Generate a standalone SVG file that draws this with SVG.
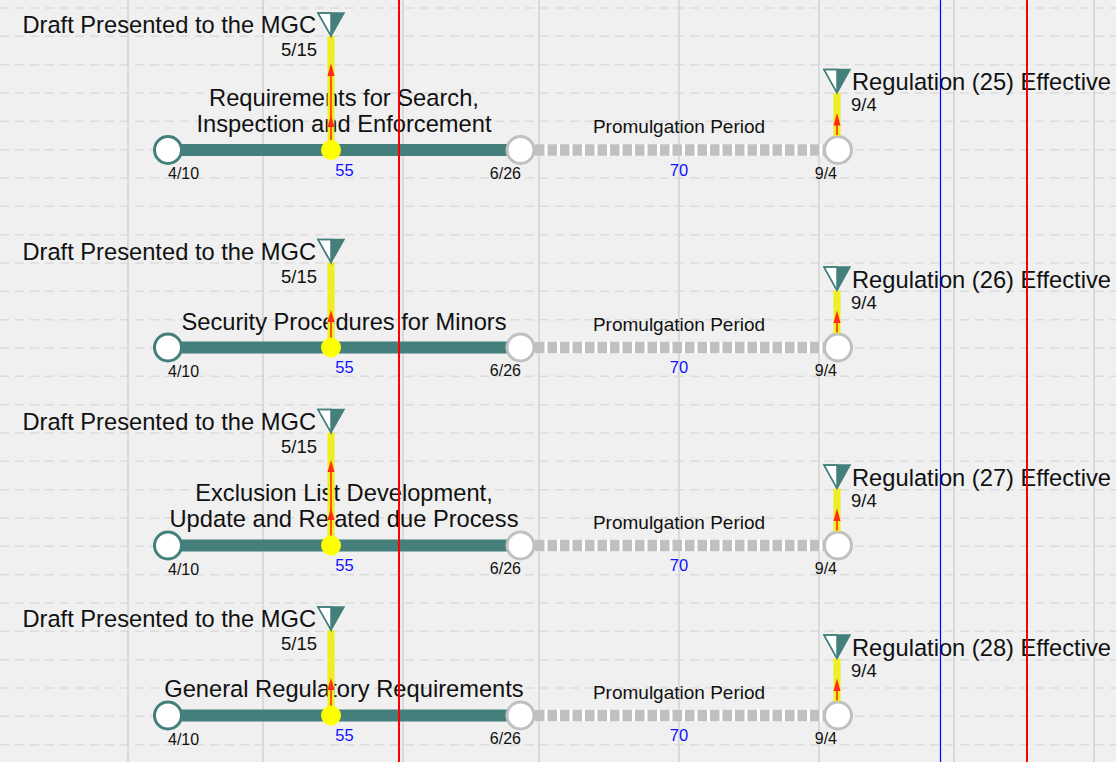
<svg xmlns="http://www.w3.org/2000/svg" width="1116" height="762" viewBox="0 0 1116 762">
<style>
.bg{fill:#f0f0f0}
.hg{stroke:#dcdcdc;stroke-width:1.5;stroke-dasharray:9 6}
.vg{stroke:#d2d2d2;stroke-width:1.5}
.t{font-family:"Liberation Sans",Arial,sans-serif;fill:#111}
.big{font-size:23.7px}
.mid{font-size:19px}
.ms{font-size:18.5px}
.dt{font-size:16px}
.num{font-size:16.5px;fill:#1010ff}
.bar{stroke:#447f7c;stroke-width:12}
.pw{stroke:#ffffff;stroke-width:11.5}
.pd{stroke:#c0c0c0;stroke-width:11.5;stroke-dasharray:9.5 3}
.cs{fill:#fff;stroke:#447f7c;stroke-width:3}
.ce{fill:#fff;stroke:#c0c0c0;stroke-width:3}
.yl{stroke:#eeee22;stroke-width:7}
.yc{fill:#ffff00}
.rl{stroke:#ff3010;stroke-width:1.6}
.ra{fill:#ff2a1a}
.tw{fill:#fff;stroke:#447f7c;stroke-width:1.5}
.tt{fill:#447f7c}
</style>
<rect class="bg" x="0" y="0" width="1116" height="762"/>
<g id="grid">
<g class="hg">
<line x1="0" y1="8" x2="1116" y2="8"/><line x1="0" y1="36.3" x2="1116" y2="36.3"/><line x1="0" y1="64.7" x2="1116" y2="64.7"/><line x1="0" y1="93" x2="1116" y2="93"/><line x1="0" y1="121.3" x2="1116" y2="121.3"/><line x1="0" y1="149.7" x2="1116" y2="149.7"/><line x1="0" y1="178" x2="1116" y2="178"/><line x1="0" y1="206.3" x2="1116" y2="206.3"/><line x1="0" y1="234.7" x2="1116" y2="234.7"/><line x1="0" y1="263" x2="1116" y2="263"/><line x1="0" y1="291.3" x2="1116" y2="291.3"/><line x1="0" y1="319.7" x2="1116" y2="319.7"/><line x1="0" y1="348" x2="1116" y2="348"/><line x1="0" y1="376.3" x2="1116" y2="376.3"/><line x1="0" y1="404.7" x2="1116" y2="404.7"/><line x1="0" y1="433" x2="1116" y2="433"/><line x1="0" y1="461.3" x2="1116" y2="461.3"/><line x1="0" y1="489.7" x2="1116" y2="489.7"/><line x1="0" y1="518" x2="1116" y2="518"/><line x1="0" y1="546.3" x2="1116" y2="546.3"/><line x1="0" y1="574.7" x2="1116" y2="574.7"/><line x1="0" y1="603" x2="1116" y2="603"/><line x1="0" y1="631.3" x2="1116" y2="631.3"/><line x1="0" y1="659.7" x2="1116" y2="659.7"/><line x1="0" y1="688" x2="1116" y2="688"/><line x1="0" y1="716.3" x2="1116" y2="716.3"/><line x1="0" y1="744.7" x2="1116" y2="744.7"/>
</g>
<g class="vg">
<line x1="128" y1="0" x2="128" y2="762"/><line x1="263" y1="0" x2="263" y2="762"/><line x1="403" y1="0" x2="403" y2="762"/><line x1="539" y1="0" x2="539" y2="762"/><line x1="679" y1="0" x2="679" y2="762"/><line x1="819" y1="0" x2="819" y2="762"/><line x1="954" y1="0" x2="954" y2="762"/><line x1="1094" y1="0" x2="1094" y2="762"/>
</g>
</g>
<g id="connectors">
<line class="bar" x1="168" y1="150" x2="520" y2="150"/>
<line class="pw" x1="533" y1="150" x2="825" y2="150"/>
<line class="pd" x1="535" y1="150" x2="825" y2="150"/>
<line class="bar" x1="168" y1="347.5" x2="520" y2="347.5"/>
<line class="pw" x1="533" y1="347.5" x2="825" y2="347.5"/>
<line class="pd" x1="535" y1="347.5" x2="825" y2="347.5"/>
<line class="bar" x1="168" y1="545.5" x2="520" y2="545.5"/>
<line class="pw" x1="533" y1="545.5" x2="825" y2="545.5"/>
<line class="pd" x1="535" y1="545.5" x2="825" y2="545.5"/>
<line class="bar" x1="168" y1="715.5" x2="520" y2="715.5"/>
<line class="pw" x1="533" y1="715.5" x2="825" y2="715.5"/>
<line class="pd" x1="535" y1="715.5" x2="825" y2="715.5"/>
</g>
<g id="labels">
<text class="t big" x="344" y="105.5" text-anchor="middle">Requirements for Search,</text>
<text class="t big" x="344" y="131.5" text-anchor="middle">Inspection and Enforcement</text>
<text class="t big" x="344" y="329.5" text-anchor="middle">Security Procedures for Minors</text>
<text class="t big" x="344" y="501" text-anchor="middle">Exclusion List Development,</text>
<text class="t big" x="344" y="527" text-anchor="middle">Update and Related due Process</text>
<text class="t big" x="344" y="697" text-anchor="middle">General Regulatory Requirements</text>
<text class="t mid" x="679" y="133" text-anchor="middle">Promulgation Period</text>
<text class="t mid" x="679" y="330.5" text-anchor="middle">Promulgation Period</text>
<text class="t mid" x="679" y="528.5" text-anchor="middle">Promulgation Period</text>
<text class="t mid" x="679" y="698.5" text-anchor="middle">Promulgation Period</text>
<text class="t num" x="344.5" y="175.5" text-anchor="middle">55</text>
<text class="t num" x="679" y="175.5" text-anchor="middle">70</text>
<text class="t num" x="344.5" y="373" text-anchor="middle">55</text>
<text class="t num" x="679" y="373" text-anchor="middle">70</text>
<text class="t num" x="344.5" y="571" text-anchor="middle">55</text>
<text class="t num" x="679" y="571" text-anchor="middle">70</text>
<text class="t num" x="344.5" y="741" text-anchor="middle">55</text>
<text class="t num" x="679" y="741" text-anchor="middle">70</text>
</g>
<!-- Row 1 -->
<g id="r1-start"><circle class="cs" cx="168" cy="150" r="13.5"/><text class="t dt" x="168" y="179">4/10</text></g>
<g id="r1-end"><circle class="ce" cx="520.5" cy="150" r="13.5"/><text class="t dt" x="521" y="178.5" text-anchor="end">6/26</text></g>
<g id="r1-final"><circle class="ce" cx="838" cy="150" r="13.5"/><text class="t dt" x="837" y="178.5" text-anchor="end">9/4</text></g>
<g id="r1-draft">
<line class="yl" x1="331" y1="36" x2="331" y2="150"/>
<line class="rl" x1="331" y1="143" x2="331" y2="72"/>
<polygon class="ra" points="331,63 327.5,76 334.5,76"/>
<polygon class="ra" points="331,115 327.5,127 334.5,127"/>
<circle class="yc" cx="331" cy="150" r="10"/>
<polygon class="tw" points="318,13 331,13 331,36"/><polygon class="tt" points="331,13 344,13 331,36"/><polygon points="318,13 344,13 331,36" fill="none" stroke="#447f7c" stroke-width="1.5"/>
<text class="t big" x="316" y="33" text-anchor="end">Draft Presented to the MGC</text>
<text class="t ms" x="317" y="56" text-anchor="end">5/15</text>
</g>
<g id="r1-effective">
<line class="yl" x1="837" y1="93" x2="837" y2="136"/>
<line class="rl" x1="837" y1="135" x2="837" y2="120"/>
<polygon class="ra" points="837,113 833.5,125.5 840.5,125.5"/>
<polygon class="tw" points="824,69.5 837,69.5 837,93"/><polygon class="tt" points="837,69.5 850,69.5 837,93"/><polygon points="824,69.5 850,69.5 837,93" fill="none" stroke="#447f7c" stroke-width="1.5"/>
<text class="t big" x="852" y="90">Regulation (25) Effective</text>
<text class="t ms" x="851" y="111">9/4</text>
</g>
<!-- Row 2 -->
<g id="r2-start"><circle class="cs" cx="168" cy="347.5" r="13.5"/><text class="t dt" x="168" y="376.5">4/10</text></g>
<g id="r2-end"><circle class="ce" cx="520.5" cy="347.5" r="13.5"/><text class="t dt" x="521" y="376" text-anchor="end">6/26</text></g>
<g id="r2-final"><circle class="ce" cx="838" cy="347.5" r="13.5"/><text class="t dt" x="837" y="376" text-anchor="end">9/4</text></g>
<g id="r2-draft">
<line class="yl" x1="331" y1="262.5" x2="331" y2="347.5"/>
<line class="rl" x1="331" y1="341" x2="331" y2="318"/>
<polygon class="ra" points="331,310 327.5,322 334.5,322"/>
<circle class="yc" cx="331" cy="347.5" r="10"/>
<polygon class="tw" points="318,239.5 331,239.5 331,262.5"/><polygon class="tt" points="331,239.5 344,239.5 331,262.5"/><polygon points="318,239.5 344,239.5 331,262.5" fill="none" stroke="#447f7c" stroke-width="1.5"/>
<text class="t big" x="316" y="259.5" text-anchor="end">Draft Presented to the MGC</text>
<text class="t ms" x="317" y="282.5" text-anchor="end">5/15</text>
</g>
<g id="r2-effective">
<line class="yl" x1="837" y1="290.5" x2="837" y2="333.5"/>
<line class="rl" x1="837" y1="332.5" x2="837" y2="317.5"/>
<polygon class="ra" points="837,310.5 833.5,323 840.5,323"/>
<polygon class="tw" points="824,267 837,267 837,290.5"/><polygon class="tt" points="837,267 850,267 837,290.5"/><polygon points="824,267 850,267 837,290.5" fill="none" stroke="#447f7c" stroke-width="1.5"/>
<text class="t big" x="852" y="287.5">Regulation (26) Effective</text>
<text class="t ms" x="851" y="308.5">9/4</text>
</g>
<!-- Row 3 -->
<g id="r3-start"><circle class="cs" cx="168" cy="545.5" r="13.5"/><text class="t dt" x="168" y="574.5">4/10</text></g>
<g id="r3-end"><circle class="ce" cx="520.5" cy="545.5" r="13.5"/><text class="t dt" x="521" y="574" text-anchor="end">6/26</text></g>
<g id="r3-final"><circle class="ce" cx="838" cy="545.5" r="13.5"/><text class="t dt" x="837" y="574" text-anchor="end">9/4</text></g>
<g id="r3-draft">
<line class="yl" x1="331" y1="432.5" x2="331" y2="545.5"/>
<line class="rl" x1="331" y1="538.5" x2="331" y2="469"/>
<polygon class="ra" points="331,460 327.5,472 334.5,472"/>
<polygon class="ra" points="331,508 327.5,520 334.5,520"/>
<circle class="yc" cx="331" cy="545.5" r="10"/>
<polygon class="tw" points="318,409.5 331,409.5 331,432.5"/><polygon class="tt" points="331,409.5 344,409.5 331,432.5"/><polygon points="318,409.5 344,409.5 331,432.5" fill="none" stroke="#447f7c" stroke-width="1.5"/>
<text class="t big" x="316" y="429.5" text-anchor="end">Draft Presented to the MGC</text>
<text class="t ms" x="317" y="452.5" text-anchor="end">5/15</text>
</g>
<g id="r3-effective">
<line class="yl" x1="837" y1="488.5" x2="837" y2="531.5"/>
<line class="rl" x1="837" y1="530.5" x2="837" y2="515.5"/>
<polygon class="ra" points="837,508.5 833.5,521 840.5,521"/>
<polygon class="tw" points="824,465 837,465 837,488.5"/><polygon class="tt" points="837,465 850,465 837,488.5"/><polygon points="824,465 850,465 837,488.5" fill="none" stroke="#447f7c" stroke-width="1.5"/>
<text class="t big" x="852" y="485.5">Regulation (27) Effective</text>
<text class="t ms" x="851" y="506.5">9/4</text>
</g>
<!-- Row 4 -->
<g id="r4-start"><circle class="cs" cx="168" cy="715.5" r="13.5"/><text class="t dt" x="168" y="744.5">4/10</text></g>
<g id="r4-end"><circle class="ce" cx="520.5" cy="715.5" r="13.5"/><text class="t dt" x="521" y="744" text-anchor="end">6/26</text></g>
<g id="r4-final"><circle class="ce" cx="838" cy="715.5" r="13.5"/><text class="t dt" x="837" y="744" text-anchor="end">9/4</text></g>
<g id="r4-draft">
<line class="yl" x1="331" y1="630" x2="331" y2="715.5"/>
<line class="rl" x1="331" y1="709" x2="331" y2="686"/>
<polygon class="ra" points="331,678 327.5,690 334.5,690"/>
<circle class="yc" cx="331" cy="715.5" r="10"/>
<polygon class="tw" points="318,607 331,607 331,630"/><polygon class="tt" points="331,607 344,607 331,630"/><polygon points="318,607 344,607 331,630" fill="none" stroke="#447f7c" stroke-width="1.5"/>
<text class="t big" x="316" y="627" text-anchor="end">Draft Presented to the MGC</text>
<text class="t ms" x="317" y="650" text-anchor="end">5/15</text>
</g>
<g id="r4-effective">
<line class="yl" x1="837" y1="658.5" x2="837" y2="701.5"/>
<line class="rl" x1="837" y1="700.5" x2="837" y2="685.5"/>
<polygon class="ra" points="837,678.5 833.5,691 840.5,691"/>
<polygon class="tw" points="824,635 837,635 837,658.5"/><polygon class="tt" points="837,635 850,635 837,658.5"/><polygon points="824,635 850,635 837,658.5" fill="none" stroke="#447f7c" stroke-width="1.5"/>
<text class="t big" x="852" y="655.5">Regulation (28) Effective</text>
<text class="t ms" x="851" y="676.5">9/4</text>
</g>
<g id="markers">
<line x1="399" y1="0" x2="399" y2="762" stroke="#ff0000" stroke-width="2"/>
<line x1="940.5" y1="0" x2="940.5" y2="762" stroke="#0000ff" stroke-width="1.2"/>
<line x1="1027" y1="0" x2="1027" y2="762" stroke="#ff0000" stroke-width="2"/>
</g>
</svg>
